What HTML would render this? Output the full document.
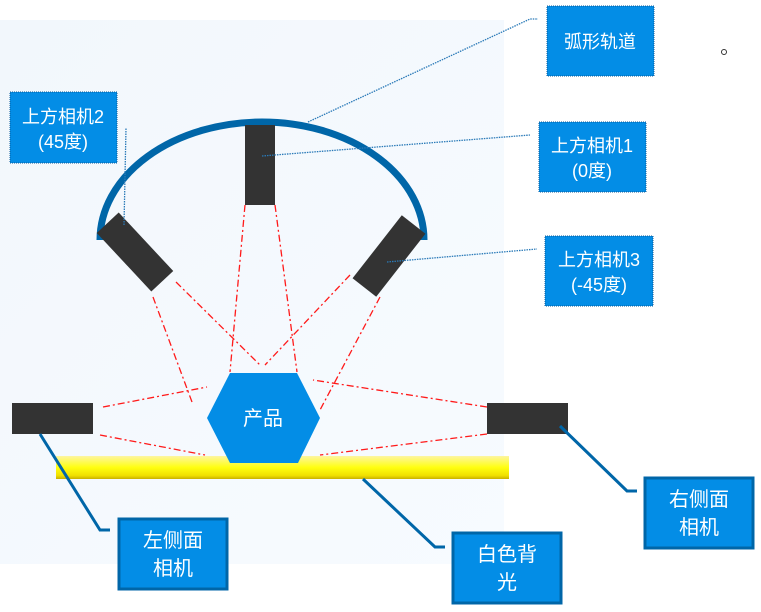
<!DOCTYPE html>
<html><head><meta charset="utf-8"><style>
html,body{margin:0;padding:0;background:#fff;width:761px;height:612px;overflow:hidden}
svg{display:block}
text{font-family:"Liberation Sans","Noto Sans CJK SC",sans-serif;fill:#fff}
</style></head><body>
<svg width="761" height="612" viewBox="0 0 761 612">
<defs>
<linearGradient id="bg" x1="0" y1="0" x2="1" y2="1"><stop offset="0" stop-color="#f2f7fc"/><stop offset="1" stop-color="#f7fbff"/></linearGradient>
<linearGradient id="yl" x1="0" y1="0" x2="0" y2="1"><stop offset="0" stop-color="#fdf5a0"/><stop offset="0.5" stop-color="#ffff10"/><stop offset="0.85" stop-color="#f0e000"/><stop offset="1" stop-color="#c8b000"/></linearGradient>
</defs>
<rect x="0" y="20" width="504" height="544" fill="url(#bg)"/>
<g stroke="#ff1a1a" stroke-width="1.3" stroke-dasharray="7,3,2,3" fill="none">
<line x1="245" y1="205" x2="230" y2="372"/>
<line x1="275" y1="205" x2="297" y2="372"/>
<line x1="153" y1="297" x2="192" y2="402"/>
<line x1="176" y1="282" x2="260" y2="365"/>
<line x1="350" y1="275" x2="265" y2="365"/>
<line x1="380" y1="297" x2="320" y2="410"/>
<line x1="103" y1="407" x2="207" y2="387"/>
<line x1="100" y1="435" x2="205" y2="455"/>
<line x1="487" y1="407" x2="313" y2="380"/>
<line x1="487" y1="434" x2="320" y2="455"/>
</g>
<rect x="56" y="456" width="453" height="23" fill="url(#yl)"/>
<path d="M100 240 A162 118 0 0 1 424 240" fill="none" stroke="#0066a8" stroke-width="7"/>
<rect x="245" y="125" width="30" height="80" fill="#333"/>
<rect x="-40" y="-15" width="80" height="30" fill="#333" transform="translate(135,252) rotate(47)"/>
<rect x="-40" y="-15" width="80" height="30" fill="#333" transform="translate(389,256) rotate(-52)"/>
<rect x="12" y="403" width="81" height="31" fill="#333"/>
<rect x="487" y="403" width="81" height="31" fill="#333"/>
<polygon points="207,418 230,373 297,373 320,418 298,463 230,463" fill="#038de6"/>
<text x="263" y="425" font-size="20" text-anchor="middle">产品</text>
<g stroke="#2a7ab8" stroke-width="1.3" stroke-dasharray="1.5,1" fill="none">
<polyline points="308,122 530,19 538,19"/>
<line x1="262" y1="156" x2="530" y2="135"/>
<line x1="387" y1="262" x2="537" y2="249"/>
<line x1="124" y1="225" x2="126" y2="128"/>
</g>
<g stroke="#0066a8" stroke-width="3" fill="none">
<polyline points="40,434 100,530 110,530"/>
<polyline points="363,479 435,547 445,547"/>
<polyline points="560,426 627,491 637,491"/>
</g>
<g fill="#038de6" stroke="#0a5a9a" stroke-width="1" stroke-dasharray="1,1">
<rect x="547" y="6" width="107" height="70"/>
<rect x="539" y="122" width="107" height="70"/>
<rect x="545" y="236" width="108" height="70"/>
<rect x="10" y="92" width="107" height="71"/>
</g>
<text x="600" y="48" font-size="18" text-anchor="middle">弧形轨道</text>
<text x="592" y="152" font-size="18" text-anchor="middle">上方相机1</text>
<text x="592" y="177" font-size="18" text-anchor="middle">(0度)</text>
<text x="599" y="266" font-size="18" text-anchor="middle">上方相机3</text>
<text x="599" y="291" font-size="18" text-anchor="middle">(-45度)</text>
<text x="63" y="123" font-size="18" text-anchor="middle">上方相机2</text>
<text x="63" y="148" font-size="18" text-anchor="middle">(45度)</text>
<circle cx="724" cy="52" r="2.5" fill="none" stroke="#333" stroke-width="1"/>
<g fill="#038de6" stroke="#0066a8" stroke-width="3">
<rect x="119" y="519" width="108" height="70"/>
<rect x="453" y="533" width="108" height="70"/>
<rect x="645" y="478" width="108" height="70"/>
</g>
<text x="173" y="547" font-size="20" text-anchor="middle">左侧面</text>
<text x="173" y="575" font-size="20" text-anchor="middle">相机</text>
<text x="507" y="561" font-size="20" text-anchor="middle">白色背</text>
<text x="507" y="589" font-size="20" text-anchor="middle">光</text>
<text x="699" y="506" font-size="20" text-anchor="middle">右侧面</text>
<text x="699" y="534" font-size="20" text-anchor="middle">相机</text>
</svg>
</body></html>
